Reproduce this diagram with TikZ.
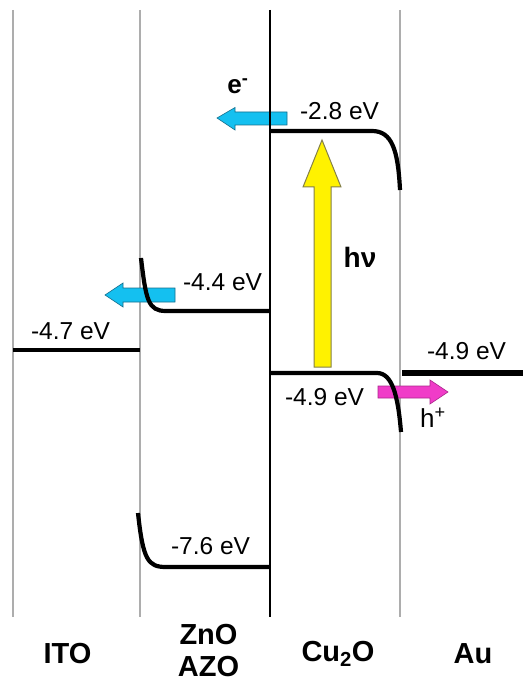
\documentclass[tikz,border=0pt]{standalone}
\usepackage{fontspec}
\setmainfont{Liberation Sans}
\definecolor{arrowcyan}{RGB}{20,192,240}
\definecolor{arrowcyanedge}{RGB}{20,110,140}
\definecolor{arrowpink}{RGB}{240,60,200}
\definecolor{arrowpinkedge}{RGB}{170,40,140}
\begin{document}
\begin{tikzpicture}[x=1pt,y=-1pt,
  wall/.style={draw=black!32, line width=2pt},
  level/.style={draw=black, line width=4.2pt, line cap=butt},
  ev/.style={font=\fontsize{24.5}{28}\selectfont, inner sep=0pt},
  lay/.style={font=\fontsize{29}{33}\selectfont\bfseries, inner sep=0pt, align=center},
  blueblk/.style={fill=arrowcyan, draw=arrowcyanedge, line width=0.6pt},
  pinkblk/.style={fill=arrowpink, draw=arrowpinkedge, line width=0.6pt},
  yellowblk/.style={fill=yellow, draw=black!55!yellow, line width=1pt}]
\useasboundingbox (0,0) rectangle (523,684);
% layer boundaries
\coordinate (w1t) at (13,10);  \coordinate (w1b) at (13,617);
\coordinate (w2t) at (140,10); \coordinate (w2b) at (140,617);
\coordinate (w3t) at (270,10); \coordinate (w3b) at (270,617);
\coordinate (w4t) at (400,10); \coordinate (w4b) at (400,617);
\draw[wall] (w1t) -- (w1b);
\draw[wall] (w2t) -- (w2b);
\draw[wall] (w4t) -- (w4b);
% block arrows (under the band lines)
\path[blueblk] (217,118) -- (235,107.5) -- (235,112) -- (287,112) -- (287,125) -- (235,125) -- (235,130) -- cycle;
\path[blueblk] (105,295) -- (123,283) -- (123,288) -- (175,288) -- (175,302) -- (123,302) -- (123,307) -- cycle;
\path[pinkblk] (448,392) -- (430,380) -- (430,386) -- (378,386) -- (378,398) -- (430,398) -- (430,404) -- cycle;
\path[yellowblk] (322,140) -- (341,187) -- (331,187) -- (331,367) -- (314,367) -- (314,187) -- (303,187) -- cycle;
\draw[black, line width=1.3pt] (w3t) -- (w3b);
% band levels
\draw[level] (13,350) -- (140,350);
\draw[level] (141,258) .. controls (146,300) and (148,311) .. (166,311) -- (270,311);
\draw[level] (138,513) .. controls (143,560) and (148,567) .. (166,567) -- (270,567);
\draw[level] (270,131) -- (372,131) .. controls (392,131) and (398,150) .. (400,190);
\draw[level] (270,373) -- (377,373) .. controls (392,373) and (398,395) .. (401,432);
\draw[level, line width=5.5pt] (402,373) -- (523,373);
% energy labels
\node[ev] (l47) at (70.5,331.5) {-4.7 eV};
\node[ev] (l44) at (222.5,282) {-4.4 eV};
\node[ev] (l76) at (210.5,546.5) {-7.6 eV};
\node[ev] (l28) at (339.5,111) {-2.8 eV};
\node[ev] (l49a) at (324.5,397.5) {-4.9 eV};
\node[ev] (l49b) at (466.5,351.5) {-4.9 eV};
\node[ev, font=\fontsize{26}{30}\selectfont\bfseries] (el) at (238,86) {e\textsuperscript{-}};
\node[ev, font=\fontsize{26}{30}\selectfont] (hp) at (433,418) {h\textsuperscript{+}};
\node[ev, font=\fontsize{28}{32}\selectfont\bfseries] (hv) at (360,257.5) {hν};
% layer names
\node[lay] (ito) at (67.5,654) {ITO};
\node[lay] (zno) at (208.5,651) {ZnO\\[-1pt]AZO};
\node[lay] (cu) at (338,654) {Cu\textsubscript{2}O};
\node[lay] (au) at (473,654) {Au};
\end{tikzpicture}
\end{document}
